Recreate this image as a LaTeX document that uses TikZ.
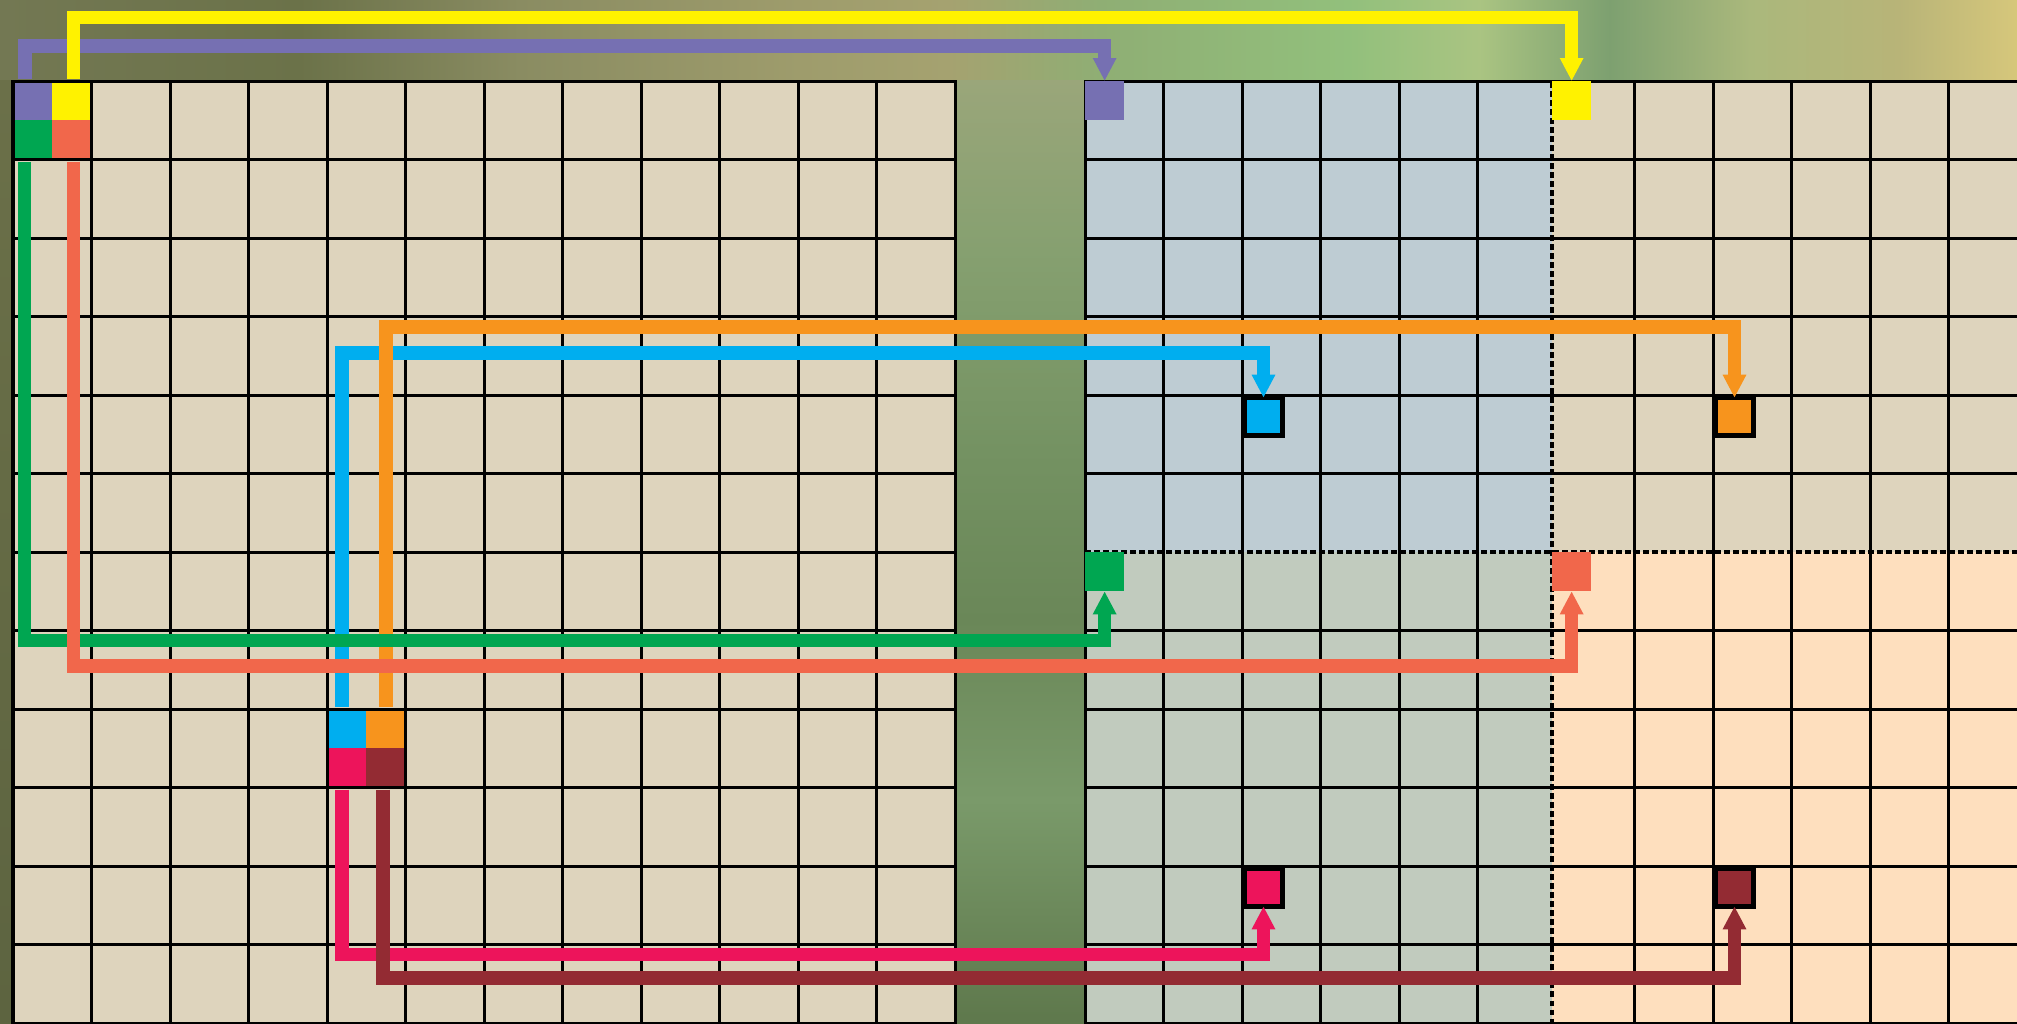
\documentclass[tikz,border=0pt]{standalone}
\usetikzlibrary{arrows.meta}
\definecolor{cPurple}{HTML}{7670B2}
\definecolor{cYellow}{HTML}{FFF200}
\definecolor{cGreen}{HTML}{00A651}
\definecolor{cCoral}{HTML}{F1674B}
\definecolor{cCyan}{HTML}{00AEEF}
\definecolor{cOrange}{HTML}{F7941D}
\definecolor{cPink}{HTML}{ED145B}
\definecolor{cMaroon}{HTML}{932B33}
\definecolor{cBeige}{HTML}{DED4BD}
\definecolor{cBlueGrey}{HTML}{BECCD3}
\definecolor{cSage}{HTML}{C1CBBE}
\definecolor{cPeach}{HTML}{FEDFBE}
\begin{document}
\begin{tikzpicture}[x=0.01cm,y=-0.01cm,
  gridline/.style={line width=0.03cm, line cap=rect},
  dotline/.style={line width=0.036cm, dash pattern=on 0.055cm off 0.035cm},
  quarter/.style={fill=#1, inner sep=0pt, outer sep=0pt, minimum size=0.3925cm, anchor=north west},
  goalbox/.style={fill=#1, draw=black, line width=0.05cm, inner sep=0pt, outer sep=0pt, minimum size=0.375cm},
  conn/.style={draw=#1, line width=0.135cm, line join=miter, -{Triangle[width=0.22cm,length=0.23cm]}}
]
\useasboundingbox (0,0) rectangle (2017,1023);
\clip (0,0) rectangle (2017,1023);
% ---------- background ----------
\fill[black!70!green!40!brown] (0,0) rectangle (2017,1023);
\shade[left color={rgb,255:red,115;green,120;blue,83}, right color={rgb,255:red,107;green,114;blue,73}] (0,0) rectangle (300,81);
\shade[left color={rgb,255:red,107;green,114;blue,73}, right color={rgb,255:red,138;green,140;blue,98}] (299,0) rectangle (520,81);
\shade[left color={rgb,255:red,138;green,140;blue,98}, right color={rgb,255:red,158;green,156;blue,108}] (519,0) rectangle (800,81);
\shade[left color={rgb,255:red,158;green,156;blue,108}, right color={rgb,255:red,165;green,162;blue,112}] (799,0) rectangle (950,81);
\shade[left color={rgb,255:red,165;green,162;blue,112}, right color={rgb,255:red,143;green,174;blue,116}] (949,0) rectangle (1100,81);
\shade[left color={rgb,255:red,143;green,174;blue,116}, right color={rgb,255:red,146;green,192;blue,124}] (1099,0) rectangle (1350,81);
\shade[left color={rgb,255:red,146;green,192;blue,124}, right color={rgb,255:red,170;green,196;blue,130}] (1349,0) rectangle (1480,81);
\shade[left color={rgb,255:red,170;green,196;blue,130}, right color={rgb,255:red,125;green,160;blue,112}] (1479,0) rectangle (1610,81);
\shade[left color={rgb,255:red,125;green,160;blue,112}, right color={rgb,255:red,170;green,184;blue,124}] (1609,0) rectangle (1750,81);
\shade[left color={rgb,255:red,170;green,184;blue,124}, right color={rgb,255:red,184;green,180;blue,120}] (1749,0) rectangle (1900,81);
\shade[left color={rgb,255:red,184;green,180;blue,120}, right color={rgb,255:red,214;green,199;blue,123}] (1899,0) rectangle (2017,81);
% strip between the grids
\shade[top color={rgb,255:red,154;green,166;blue,122}, bottom color={rgb,255:red,134;green,160;blue,112}] (955,80) rectangle (1086,251);
\shade[top color={rgb,255:red,134;green,160;blue,112}, bottom color={rgb,255:red,116;green,146;blue,98}] (955,250) rectangle (1086,451);
\shade[top color={rgb,255:red,116;green,146;blue,98}, bottom color={rgb,255:red,106;green,135;blue,88}] (955,450) rectangle (1086,621);
\shade[top color={rgb,255:red,106;green,135;blue,88}, bottom color={rgb,255:red,122;green,154;blue,106}] (955,620) rectangle (1086,801);
\shade[top color={rgb,255:red,122;green,154;blue,106}, bottom color={rgb,255:red,94;green,120;blue,76}] (955,800) rectangle (1086,1023);
\shade[top color={rgb,255:red,107;green,112;blue,73}, bottom color={rgb,255:red,93;green,100;blue,64}] (0,80) rectangle (14,1023);
% ---------- cell fills ----------
\fill[cBeige] (13,81) rectangle (955,1023);
\fill[cBlueGrey] (1085,81) rectangle (1552,552);
\fill[cBeige] (1552,81) rectangle (2017,552);
\fill[cSage] (1085,552) rectangle (1552,1023);
\fill[cPeach] (1552,552) rectangle (2017,1023);
% ---------- source quarters (left grid) ----------
\node[quarter=cPurple] (sP) at (13,81) {};
\node[quarter=cYellow] (sY) at (52.25,81) {};
\node[quarter=cGreen] (sG) at (13,120.25) {};
\node[quarter=cCoral] (sR) at (52.25,120.25) {};
\node[quarter=cCyan] (sC) at (327,709) {};
\node[quarter=cOrange] (sO) at (366.25,709) {};
\node[quarter=cPink] (sK) at (327,748.25) {};
\node[quarter=cMaroon] (sD) at (366.25,748.25) {};
% ---------- grid lines ----------
\foreach \i in {0,...,12} {
  \draw[gridline] ({13+78.5*\i},81) -- ({13+78.5*\i},1023);
  \draw[gridline] (13,{81+78.5*\i}) -- (955,{81+78.5*\i});
}
\foreach \i in {0,...,5,7,8,9,10,11} {
  \draw[gridline] ({1085+78.5*\i},81) -- ({1085+78.5*\i},1023);
}
\foreach \i in {0,...,5,7,8,9,10,11,12} {
  \draw[gridline] (1085,{81+78.5*\i}) -- (2030,{81+78.5*\i});
}
\draw[dotline] (1552,82) -- (1552,1023);
\draw[dotline] (1085,552) -- (2030,552);
% ---------- target squares (right grid) ----------
\node[quarter=cPurple] (tP) at (1085,81) {};
\node[quarter=cYellow] (tY) at (1552,81) {};
\node[quarter=cGreen] (tG) at (1085,552) {};
\node[quarter=cCoral] (tR) at (1552,552) {};
\node[goalbox=cCyan] (tC) at (1263.5,416.5) {};
\node[goalbox=cOrange] (tO) at (1734.5,416.5) {};
\node[goalbox=cPink] (tK) at (1263.5,887.5) {};
\node[goalbox=cMaroon] (tD) at (1734.5,887.5) {};
% ---------- connectors ----------
\draw[conn=cCyan] ([shift={(-4.6,-2)}]sC.north) -- ++(0,-354) -| (tC.north);
\draw[conn=cOrange] ([shift={(0,-2)}]sO.north) -- ++(0,-380) -| (tO.north);
\draw[conn=cPurple] ([shift={(-7.6,-2)}]sP.north) -- ++(0,-33) -| (tP.north);
\draw[conn=cYellow] ([shift={(1.6,-2)}]sY.north) -- ++(0,-61.5) -| (tY.north);
\draw[conn=cGreen] ([shift={(-8,2)}]sG.south) -- ++(0,479) -| (tG.south);
\draw[conn=cCoral] ([shift={(1.6,2)}]sR.south) -- ++(0,504.5) -| (tR.south);
\draw[conn=cPink] ([shift={(-4.6,2)}]sK.south) -- ++(0,165) -| (tK.south);
\draw[conn=cMaroon] ([shift={(-3,2)}]sD.south) -- ++(0,188.5) -| (tD.south);
\end{tikzpicture}
\end{document}
